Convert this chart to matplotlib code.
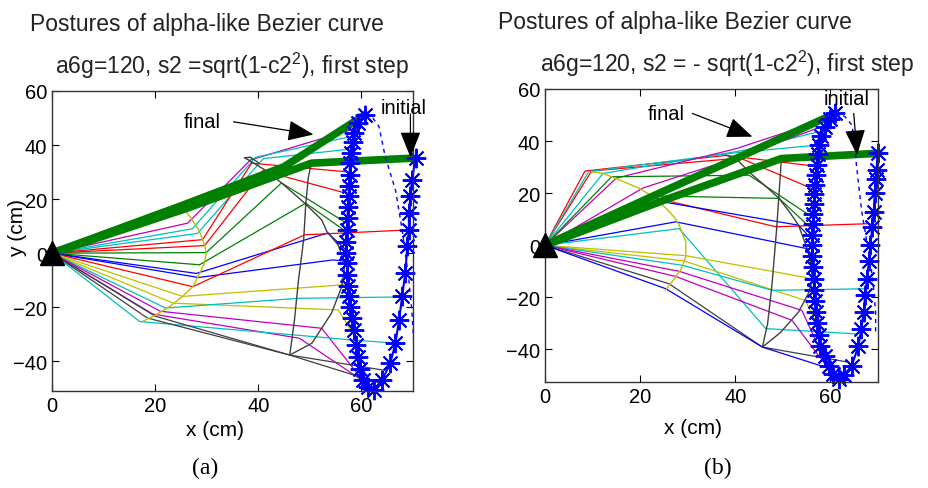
import matplotlib
matplotlib.use("Agg")
import matplotlib.pyplot as plt

plt.rcParams['font.family'] = ['Liberation Sans', 'DejaVu Sans']
plt.rcParams['mathtext.default'] = 'regular'

# ---------------- panel (a): s2 = +sqrt(1-c2^2) ----------------
traj_a = [(70.5, 35.2), (69.8, 27), (69.5, 21), (69.2, 14.8), (69.2, 8.6), (68.9, 2.5),
          (68.5, -7.4), (67.9, -16), (67.3, -24.7), (66.6, -33.3), (65.6, -40.7), (64, -47),
          (62.4, -50.6), (61.2, -49.5), (60.4, -47), (59.8, -43), (59.4, -38.3), (59, -34),
          (58.5, -28.4), (58.2, -24), (57.8, -20), (57.6, -16), (57.4, -12), (57.2, -8),
          (57.2, -3.7), (57.1, 0), (57.1, 4), (57.2, 8.6), (57.3, 13), (57.4, 17), (57.5, 21),
          (57.6, 25), (57.7, 29), (57.8, 33.3), (58, 37), (58.3, 41), (58.5, 44.4),
          (59.3, 48), (60.7, 51.2)]
dashed_a = [(60.7, 51.2), (62.2, 50), (63.4, 46.9), (64.6, 35.8), (66.6, 23.4), (67.9, 8.6),
            (69.2, -9.9), (69.8, -22), (70.2, -34.6)]
locus1_a = [(25, 17.5), (27, 13), (28.6, 8), (29.6, 3), (29.9, 0), (29.5, -4), (28.5, -8),
            (27.3, -12.4), (25.3, -16), (23, -19.5), (20.1, -22.9), (17.5, -25.3)]
locus2_a = [(50.3, 33.3), (49.7, 28), (49.2, 18), (48.8, 5), (47.8, -9.9), (47, -25),
            (46.1, -37.7), (50.4, -33.3), (54.2, -22.2), (56.2, -12.3), (56.8, -4), (55.5, 3),
            (53.3, 8), (52.3, 12.3), (49, 18.5), (44.5, 26), (41.2, 30.9), (38, 34.6),
            (37.3, 35.3), (38.5, 35.5), (40, 33.5)]
j1_a = [(26.3, 11.1), (27.2, 9.0), (28.2, 7.3), (29.2, 5.0), (29.6, 2.8), (29.9, 0.2),
        (28.6, -4.3), (28.0, -7.5), (28.4, -9.0), (27.3, -12.4), (25.3, -16.0), (23.5, -18.5),
        (22.0, -20.3), (21.0, -21.5), (19.5, -22.5), (17.0, -25.3), (18.5, -24.0), (20.0, -23.3)]
j2_a = [(38.5, 34.5), (39.5, 35.5), (41.0, 35.0), (38.7, 33.3), (40.9, 30.5), (44.5, 26.0),
        (49.2, 18.5), (53.5, 7.5), (54.5, -2.5), (49.0, 6.8), (56.6, -11.7), (55.5, -21.0),
        (47.8, -16.7), (52.3, -27.8), (48.0, -31.5), (57.5, -32.0), (46.1, -37.7), (46.1, -37.7)]
tip_a = [(59.5, 46.5), (57.6, 43.0), (57.8, 38.5), (57.7, 30.0), (56.4, 22.5), (56.8, 11.5),
         (57.0, 8.0), (57.1, 1.0), (57.1, -3.0), (69.2, 8.6), (57.6, -15.0), (58.8, -31.0),
         (67.6, -16.2), (59.6, -45.5), (60.5, -47.5), (66.6, -33.3), (64.0, -43.2), (63.4, -48.0)]
colors_a = ['m', 'c', 'c', 'r', 'r', 'g', 'g', 'b', 'b', 'r', 'y', 'y', 'c', 'm', 'm', 'c', 'k', 'k']
initial_a = [(0, 0), (26, 16.5), (50.3, 33.3), (70.5, 35.2)]
final_a = [(0, 0), (25, 17.5), (45, 32), (60.7, 51.2)]

# ---------------- panel (b): s2 = -sqrt(1-c2^2) ----------------
traj_b = [(69.9, 35.3), (69.7, 29), (69.5, 25.6), (69.3, 20), (69.1, 12.8), (68.8, 7),
          (68.4, 0), (68.1, -6), (67.7, -12.8), (67.3, -19), (67, -25.6), (66.5, -32),
          (65.9, -38.5), (64.5, -46.2), (62.8, -50), (61.7, -51.3), (60.6, -49.5), (59.6, -46.2),
          (58.8, -42.5), (57.9, -38.5), (57.5, -34.5), (57.2, -30), (57, -25.6), (56.8, -21.5),
          (56.6, -17), (56.5, -12.8), (56.3, -8.5), (56.2, -4), (56.2, 0), (56.2, 4), (56.3, 8),
          (56.4, 12), (56.5, 16), (56.6, 19.5), (56.7, 23), (56.9, 27), (57.1, 31), (57.3, 35),
          (57.5, 38.5), (58, 42), (58.8, 45.5), (60, 48.5), (61, 50.6)]
dashed_b = [(61, 50.6), (63, 49.5), (64.5, 46.2), (65.2, 38), (65.4, 32), (66, 22),
            (66.6, 12.8), (67.5, 3), (68.4, -6.4), (69, -15), (69.5, -25.6), (69.5, -34.6)]
locus1_b = [(9.8, 28.2), (12.2, 27.6), (16, 24.8), (19.9, 21.8), (23, 18.3), (25.5, 14.1),
            (27.3, 10.5), (28.2, 7.7), (29.6, 1.3), (29.6, -4.5), (28.5, -9.5), (26.8, -13.8),
            (25.3, -17.3)]
locus2_b = [(49.7, 33.3), (49.2, 20), (48.7, 6.4), (47.7, -15.4), (46.8, -30), (45.7, -39.1),
            (49.5, -33.5), (53.3, -25.6), (55.5, -18), (56.2, -12.8), (55.8, -6), (55.1, -1.3),
            (53.3, 7.7), (51.5, 12.5), (49.2, 18), (46.5, 22.5), (43.6, 27), (40.1, 33.3),
            (38, 34.6)]
j1_b = [(8.4, 28.5), (9.8, 28.5), (9.2, 28.3), (12.2, 27.6), (15.0, 25.8), (14.0, 26.3),
        (20.6, 22.0), (21.5, 19.0), (22.5, 18.5), (24.7, 16.7), (27.5, 9.0), (28.2, 6.4),
        (29.6, -4.0), (29.2, -6.0), (28.9, -7.7), (27.5, -12.0), (28.2, -10.0), (26.1, -14.8),
        (25.4, -16.7)]
j2_b = [(38.0, 34.5), (41.0, 33.5), (40.0, 35.5), (42.0, 36.5), (40.0, 37.0), (42.9, 26.9),
        (41.0, 34.0), (49.2, 18.0), (48.5, 7.1), (53.3, 7.7), (55.1, -1.3), (46.4, -32.0),
        (56.1, -12.8), (54.7, -21.2), (47.8, -17.3), (51.9, -28.8), (54.0, -25.0),
        (45.7, -39.1), (45.7, -39.1)]
tip_b = [(57.5, 30.2), (56.1, 21.8), (57.5, 38.5), (58.3, 44.0), (60.0, 49.0), (56.1, 10.9),
         (58.8, 46.0), (56.8, 5.0), (68.3, 8.3), (56.2, 2.0), (56.2, -4.0), (65.2, -34.0),
         (57.8, -30.0), (57.9, -32.7), (67.3, -16.7), (59.6, -47.4), (59.8, -48.0),
         (63.8, -44.9), (58.9, -46.8)]
colors_b = ['r', 'r', 'c', 'c', 'm', 'g', 'm', 'g', 'r', 'b', 'b', 'c', 'y', 'y', 'c', 'm', 'm', 'k', 'b']
initial_b = [(0, 0), (25, 17.3), (49.7, 33.3), (69.9, 35.3)]
final_b = [(0, 0), (25, 20.8), (45, 37.3), (61, 50.6)]

ticks = [0, 20, 40, 60]
yticks = [-40, -20, 0, 20, 40, 60]

# old MATLAB ColorOrder-ish colours
MATLAB = {'b': (0, 0, 1), 'g': (0, 0.5, 0), 'r': (1, 0, 0), 'c': (0, 0.75, 0.75),
          'm': (0.75, 0, 0.75), 'y': (0.75, 0.75, 0), 'k': (0.25, 0.25, 0.25)}


def xs(pts):
    return [p[0] for p in pts]


def ys(pts):
    return [p[1] for p in pts]


def draw_panel(ax, traj, dashed, locus1, locus2, j1, j2, tip, colors, initial, final, ylo):
    for a, b, c, col in zip(j1, j2, tip, colors):
        chain = [(0, 0), a, b, c]
        ax.plot(xs(chain), ys(chain), color=MATLAB[col], lw=0.9)
    ax.plot(xs(locus1), ys(locus1), color=MATLAB['y'], lw=1.0)
    ax.plot(xs(locus2), ys(locus2), color=MATLAB['k'], lw=1.0)
    for pose in (initial, final):
        ax.plot(xs(pose), ys(pose), color=MATLAB['g'], lw=5.5)
    ax.plot(xs(traj), ys(traj), color='b', lw=1.5, marker=(8, 2, 0), markersize=14, mew=1.4,
            clip_on=False)
    ax.plot(xs(dashed), ys(dashed), color='b', lw=1.0, ls='--', dashes=(3, 3))
    ax.plot([0], [0], marker='^', color='k', markersize=17, clip_on=False, zorder=5)

    ax.set_xlim(0, 70)
    ax.set_ylim(ylo, 60)
    ax.set_xticks(ticks)
    ax.set_yticks(yticks)
    ax.tick_params(direction='in', top=True, right=True, length=5, labelsize=14.5, width=0.8)
    for s in ax.spines.values():
        s.set_linewidth(1.0)
        s.set_color('#333333')


fig = plt.figure(figsize=(9.29, 4.89), dpi=100)
ax1 = fig.add_axes([52 / 929, 1 - 392 / 489, 361 / 929, 300 / 489])
ax2 = fig.add_axes([545 / 929, 1 - 383 / 489, 333 / 929, 293 / 489])

draw_panel(ax1, traj_a, dashed_a, locus1_a, locus2_a, j1_a, j2_a, tip_a, colors_a,
           initial_a, final_a, -51)
draw_panel(ax2, traj_b, dashed_b, locus1_b, locus2_b, j1_b, j2_b, tip_b, colors_b,
           initial_b, final_b, -52.5)

arrow = dict(arrowstyle='-|>,head_length=1.0,head_width=0.4', color='k', lw=0.9,
             mutation_scale=16, shrinkA=0, shrinkB=0)
ax1.text(25.6, 48.6, 'final', fontsize=14.5, va='center', ha='left')
ax1.annotate('', xy=(50.7, 43.9), xytext=(35.2, 48.6), arrowprops=arrow)
ax1.text(63.8, 54.0, 'initial', fontsize=14.5, va='center', ha='left', clip_on=False)
ax1.annotate('', xy=(69.5, 35.5), xytext=(69.5, 51.5), arrowprops=arrow)

ax2.text(21.5, 50.6, 'final', fontsize=14.5, va='center', ha='left')
ax2.annotate('', xy=(43.6, 41.7), xytext=(31, 50.6), arrowprops=arrow)
ax2.text(58.6, 56.4, 'initial', fontsize=14.5, va='center', ha='left')
ax2.annotate('', xy=(65.6, 34.6), xytext=(64.9, 50.6), arrowprops=arrow)

# titles, labels and captions
fig.text(207 / 929, 1 - 24 / 489, 'Postures of alpha-like Bezier curve', fontsize=16.5,
         ha='center', va='center', color='#222222')
fig.text(232 / 929, 1 - 66 / 489, 'a6g=120, s2 =sqrt(1-c2$^{2}$), first step', fontsize=16.5,
         ha='center', va='center', color='#222222')
fig.text(675 / 929, 1 - 22 / 489, 'Postures of alpha-like Bezier curve', fontsize=16.5,
         ha='center', va='center', color='#222222')
fig.text(727 / 929, 1 - 64 / 489, 'a6g=120, s2 = - sqrt(1-c2$^{2}$), first step', fontsize=16.5,
         ha='center', va='center', color='#222222')

fig.text(215 / 929, 1 - 431 / 489, 'x (cm)', fontsize=15, ha='center', va='center')
fig.text(693 / 929, 1 - 429 / 489, 'x (cm)', fontsize=15, ha='center', va='center')
fig.text(18 / 929, 1 - 228 / 489, 'y (cm)', fontsize=15, ha='center', va='center', rotation=90)

fig.text(205 / 929, 1 - 468 / 489, '(a)', fontsize=17, ha='center', va='center',
         family=['Liberation Serif', 'DejaVu Serif'])
fig.text(718 / 929, 1 - 468 / 489, '(b)', fontsize=17, ha='center', va='center',
         family=['Liberation Serif', 'DejaVu Serif'])

fig.savefig('out.png', dpi=100)
